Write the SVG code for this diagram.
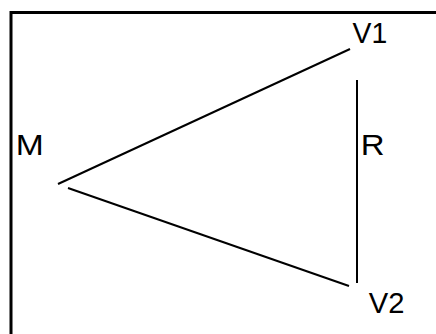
<svg xmlns="http://www.w3.org/2000/svg" width="436" height="334" viewBox="0 0 436 334">
<style>
.lbl{font-family:"Liberation Sans",Arial,sans-serif;font-size:30px;fill:#000}
.edge{stroke:#000;stroke-width:2;fill:none}
</style>
<rect width="436" height="334" fill="#fff"/>
<path d="M11,334 V12.5 H436" fill="none" stroke="#000" stroke-width="3"/>
<g id="M"><text class="lbl" x="15.8" y="155" textLength="28" lengthAdjust="spacingAndGlyphs">M</text></g>
<g id="V1"><text class="lbl" x="352.5" y="43.3" textLength="34.7" lengthAdjust="spacingAndGlyphs">V1</text></g>
<g id="V2"><text class="lbl" x="368.8" y="313.3" textLength="35.7" lengthAdjust="spacingAndGlyphs">V2</text></g>
<g id="R"><text class="lbl" x="360.7" y="155" textLength="23.8" lengthAdjust="spacingAndGlyphs">R</text></g>
<g id="connectors">
<line class="edge" x1="58" y1="184" x2="350" y2="49"/>
<line class="edge" x1="68" y1="188" x2="349" y2="286"/>
<line class="edge" x1="357" y1="80" x2="357" y2="283"/>
</g>
</svg>
